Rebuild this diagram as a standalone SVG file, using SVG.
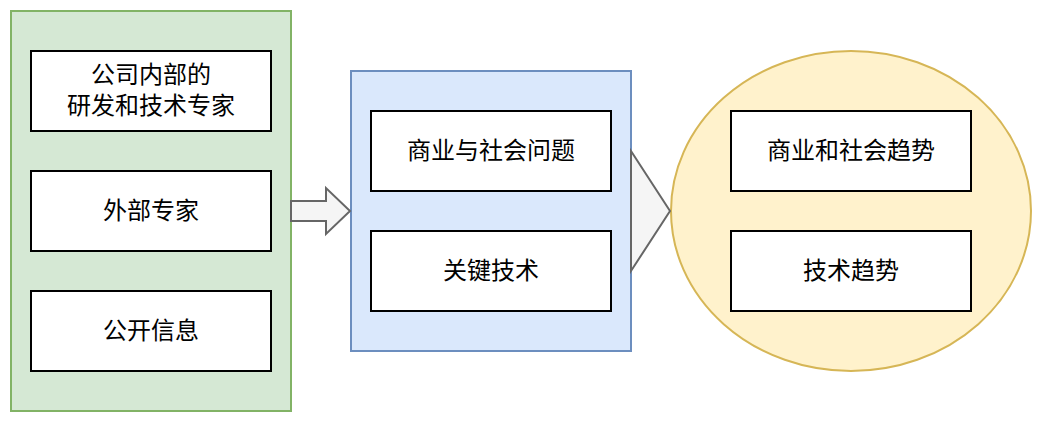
<svg xmlns="http://www.w3.org/2000/svg" width="1042" height="422" viewBox="0 0 1042 422">
<style>
.box{fill:#ffffff;stroke:#000000;stroke-width:2}
.t{font-family:"Noto Sans CJK SC","Liberation Sans",sans-serif;font-size:24px;fill:#000000;text-anchor:middle}
.arr{fill:#f5f5f5;stroke:#666666;stroke-width:2;stroke-linejoin:miter}
</style>
<rect width="1042" height="422" fill="#ffffff"/>
<g id="group-left">
<rect x="11" y="11" width="280" height="400" fill="#d5e8d4" stroke="#82b366" stroke-width="2"/>
</g>
<g id="node-internal">
<rect class="box" x="31" y="51" width="240" height="80"/>
<text class="t" x="151" y="83">公司内部的</text>
<text class="t" x="151" y="114">研发和技术专家</text>
</g>
<g id="node-external">
<rect class="box" x="31" y="171" width="240" height="80"/>
<text class="t" x="151" y="219">外部专家</text>
</g>
<g id="node-public">
<rect class="box" x="31" y="291" width="240" height="80"/>
<text class="t" x="151" y="339">公开信息</text>
</g>
<g id="group-middle">
<rect x="351" y="71" width="280" height="280" fill="#dae8fc" stroke="#6c8ebf" stroke-width="2"/>
</g>
<g id="node-issues">
<rect class="box" x="371" y="111" width="240" height="80"/>
<text class="t" x="491" y="159">商业与社会问题</text>
</g>
<g id="node-tech">
<rect class="box" x="371" y="231" width="240" height="80"/>
<text class="t" x="491" y="279">关键技术</text>
</g>
<g id="group-right">
<ellipse cx="851" cy="211" rx="180" ry="160" fill="#fff2cc" stroke="#d6b656" stroke-width="2"/>
</g>
<g id="node-trends">
<rect class="box" x="731" y="111" width="240" height="80"/>
<text class="t" x="851" y="159">商业和社会趋势</text>
</g>
<g id="node-techtrends">
<rect class="box" x="731" y="231" width="240" height="80"/>
<text class="t" x="851" y="279">技术趋势</text>
</g>
<g id="connectors">
<path class="arr" d="M291,201 L326,201 L326,188 L350,211 L326,234 L326,221 L291,221 Z"/>
<path class="arr" d="M631,151 L670,211 L631,271 Z"/>
</g>
</svg>
